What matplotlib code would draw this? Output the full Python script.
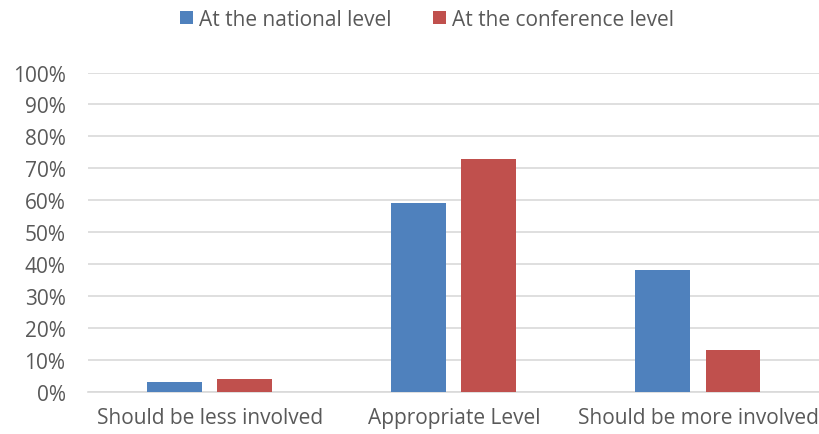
import matplotlib
matplotlib.use("Agg")
import matplotlib.pyplot as plt
import numpy as np
from matplotlib.patches import Patch

categories = ["Should be less involved", "Appropriate Level", "Should be more involved"]
series_names = ["At the national level", "At the conference level"]
national = [3, 59, 38]
conference = [4, 73, 13]
yticks = [0, 10, 20, 30, 40, 50, 60, 70, 80, 90, 100]
ytick_labels = [f"{v}%" for v in yticks]

colors = ["#4F81BD", "#C0504D"]
text_color = "#595959"

plt.rcParams['font.family'] = ['Open Sans', 'DejaVu Sans']

fig = plt.figure(figsize=(8.2, 4.35), dpi=100)
ax = fig.add_axes([0.107, 0.097, 0.893, 0.734])

x = np.arange(len(categories))
w = 0.225
off = 0.1435
ax.bar(x - off, national, width=w, color=colors[0], zorder=3)
ax.bar(x + off, conference, width=w, color=colors[1], zorder=3)

ax.set_xlim(-0.5, 2.5)
ax.set_ylim(0, 100)
ax.set_yticks(yticks)
ax.set_yticklabels(ytick_labels)
ax.set_xticks(x)
ax.set_xticklabels(categories)
ax.tick_params(axis='both', length=0, labelsize=15, colors=text_color)
ax.tick_params(axis='x', pad=11)
ax.tick_params(axis='y', pad=16)
ax.grid(axis='y', color="#D9D9D9", linewidth=1.2, zorder=0)
for s in ['top', 'right', 'left']:
    ax.spines[s].set_visible(False)
ax.spines['bottom'].set_color("#D9D9D9")
ax.spines['bottom'].set_linewidth(1.2)

handles = [Patch(facecolor=c) for c in colors]
fig.legend(handles, series_names, loc='center', bbox_to_anchor=(0.521, 0.954), ncol=2,
           frameon=False, fontsize=15, labelcolor=text_color,
           handlelength=0.6, handleheight=0.6, handletextpad=0.3, columnspacing=2.0)

fig.savefig("out.png", dpi=100)
